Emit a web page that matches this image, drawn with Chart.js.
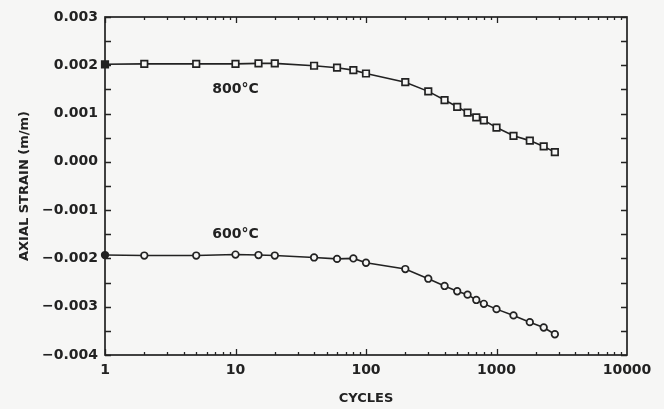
<!DOCTYPE html>
<html>
<head>
<meta charset="utf-8">
<script src="https://cdn.jsdelivr.net/npm/chart.js@4.4.1/dist/chart.umd.min.js"></script>
<style>
  html, body { margin: 0; padding: 0; background: #f6f6f5; }
  #wrap { width: 664px; height: 409px; }
</style>
</head>
<body>
<div id="wrap"><canvas id="strainChart" width="664" height="409"></canvas></div>
<script>
// cycles at which strain was read (shared by both curves)
const cycles = [1, 2, 5, 10, 15, 20, 40, 60, 80, 100, 200, 300, 400, 500, 600, 700, 800, 1000, 1350, 1800, 2300, 2800];

// axial strain (m/m)
const strain800 = [0.00202, 0.00203, 0.00203, 0.00203, 0.00204, 0.00204, 0.00199, 0.00195, 0.00190, 0.00183, 0.00165,
  0.00146, 0.00128, 0.00114, 0.00102, 0.00092, 0.00086, 0.00071, 0.00054, 0.00044, 0.00032, 0.00020];
const strain600 = [-0.00193, -0.00194, -0.00194, -0.00192, -0.00193, -0.00194, -0.00198, -0.00201, -0.00200, -0.00209, -0.00222,
  -0.00242, -0.00257, -0.00268, -0.00275, -0.00286, -0.00294, -0.00305, -0.00318, -0.00332, -0.00343, -0.00357];

const seriesNames = ['800°C', '600°C'];
const labelAnchors = [[10, 0.00151], [10, -0.00151]];

const xDecades = [1, 10, 100, 1000, 10000];
const yMin = -0.004;
const yMax = 0.003;

const ink = '#222';
const paper = '#f6f6f5';

Chart.defaults.font.family = "'DejaVu Sans', sans-serif";
Chart.defaults.color = ink;

const toPoints = (ys) => cycles.map((c, i) => ({ x: c, y: ys[i] }));
// first reading is drawn as a filled marker
const fills = cycles.map((c, i) => (i === 0 ? ink : paper));

// box, inward ticks and curve labels (drawn under the markers)
const framePlugin = {
  id: 'frame',
  beforeDatasetsDraw(chart) {
    const { ctx, chartArea: a, scales: { x, y } } = chart;
    ctx.save();
    ctx.strokeStyle = ink;
    ctx.lineWidth = 1.7;
    ctx.strokeRect(a.left, a.top, a.right - a.left, a.bottom - a.top);

    ctx.beginPath();
    ctx.lineWidth = 1.3;
    for (let v = yMin; v <= yMax + 1e-9; v += 0.0005) {
      const py = Math.round(y.getPixelForValue(v)) + 0.5;
      ctx.moveTo(a.left, py); ctx.lineTo(a.left + 6, py);
      ctx.moveTo(a.right, py); ctx.lineTo(a.right - 6, py);
    }
    for (let d = 0; d < xDecades.length - 1; d++) {
      for (let k = 1; k < 10; k++) {
        const px = Math.round(x.getPixelForValue(xDecades[d] * k)) + 0.5;
        const len = k === 1 ? 6 : 3;
        ctx.moveTo(px, a.bottom); ctx.lineTo(px, a.bottom - len);
        ctx.moveTo(px, a.top); ctx.lineTo(px, a.top + len);
      }
    }
    ctx.stroke();

    ctx.fillStyle = ink;
    ctx.font = "bold 14px 'DejaVu Sans'";
    ctx.textAlign = 'center';
    ctx.textBaseline = 'middle';
    seriesNames.forEach((name, i) => {
      const [cx, cy] = labelAnchors[i];
      ctx.fillText(name, x.getPixelForValue(cx), y.getPixelForValue(cy));
    });
    ctx.restore();
  }
};

const ctx = document.getElementById('strainChart').getContext('2d');

new Chart(ctx, {
  type: 'scatter',
  data: {
    datasets: [
      {
        label: seriesNames[0],
        data: toPoints(strain800),
        showLine: true,
        clip: false,
        borderColor: ink,
        borderWidth: 1.6,
        pointStyle: 'rect',
        pointRadius: 4.6,
        pointBorderWidth: 1.7,
        pointBorderColor: ink,
        pointBackgroundColor: fills
      },
      {
        label: seriesNames[1],
        data: toPoints(strain600),
        showLine: true,
        clip: false,
        borderColor: ink,
        borderWidth: 1.6,
        pointStyle: 'circle',
        pointRadius: 3.3,
        pointBorderWidth: 1.7,
        pointBorderColor: ink,
        pointBackgroundColor: fills
      }
    ]
  },
  options: {
    responsive: false,
    animation: false,
    layout: { padding: { left: 0, top: 17, right: 37, bottom: 0 } },
    plugins: {
      legend: { display: false },
      tooltip: { enabled: false }
    },
    scales: {
      x: {
        type: 'logarithmic',
        min: 1,
        max: 10000,
        grid: { display: false, drawTicks: false },
        border: { display: false },
        afterFit: (scale) => { scale.height = 54; },
        ticks: {
          autoSkip: false,
          maxRotation: 0,
          padding: 7,
          font: { size: 14, weight: 'bold' },
          callback: (v) => (xDecades.includes(v) ? String(v) : '')
        },
        title: {
          display: true,
          text: 'CYCLES',
          font: { size: 13, weight: 'bold' },
          padding: { top: 3, bottom: 3 }
        }
      },
      y: {
        min: yMin,
        max: yMax,
        grid: { display: false, drawTicks: false },
        border: { display: false },
        afterFit: (scale) => { scale.width = 105; },
        ticks: {
          stepSize: 0.001,
          padding: 7,
          font: { size: 14, weight: 'bold' },
          callback: (v) => {
            if (Math.abs(v) < 1e-9) return '0.000';
            return v < 0 ? '\u2212' + (-v).toFixed(3) : v.toFixed(3);
          }
        },
        title: {
          display: true,
          text: 'AXIAL STRAIN (m/m)',
          font: { size: 13, weight: 'bold' },
          padding: { top: 17, bottom: 0 }
        }
      }
    }
  },
  plugins: [framePlugin]
});
</script>
</body>
</html>
